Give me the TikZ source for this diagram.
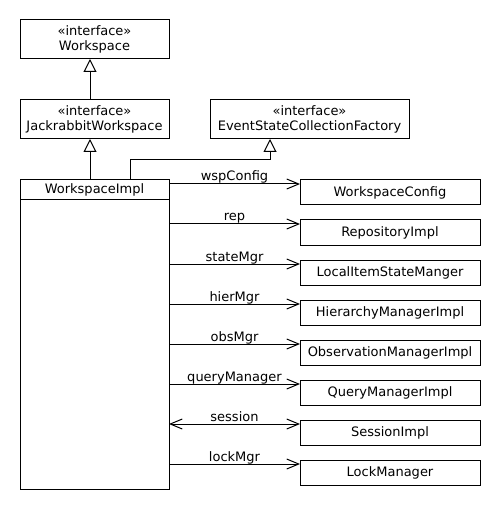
\documentclass[tikz,border=0pt]{standalone}
\usepackage{fontspec}
\setmainfont{DejaVu Sans}
\usetikzlibrary{positioning}
\usetikzlibrary{arrows.meta}
\tikzset{class/.style={draw, rectangle, line width=1pt, inner sep=0pt, outer sep=0pt, align=center},
  member/.style={class, minimum width=180pt, minimum height=25pt},
  gen/.style={-{Triangle[open, length=13pt, width=13pt]}, line width=1pt},
  assoc/.style={->, >={Straight Barb[length=12pt, width=10pt]}, line width=1pt},
  lbl/.style={anchor=base, yshift=3pt, inner sep=0pt}}

\begin{document}
\begin{tikzpicture}[x=1pt, y=-1pt, font=\fontsize{13}{15}\selectfont]
  \useasboundingbox (0,0) rectangle (500,510);

  % interfaces
  \node (wsp) at (94.5,39.5) [class, minimum width=149pt, minimum height=39pt] {«interface»\\Workspace};
  \node (jrwsp) at (94.5,119.5) [class, minimum width=149pt, minimum height=39pt] {«interface»\\JackrabbitWorkspace};
  \node (escf) at (309.5,119.5) [class, minimum width=199pt, minimum height=39pt] {«interface»\\EventStateCollectionFactory};

  % implementation
  \node (wspimpl) at (94.5,190) [class, minimum width=149pt, minimum height=20pt] {WorkspaceImpl};
  \node (wspbody) [class, below=0pt of wspimpl, minimum width=149pt, minimum height=289pt] {};

  % members
  \node (wspconf) at (390,192.5) [member] {WorkspaceConfig};
  \node (repimpl) at (390,232.5) [member] {RepositoryImpl};
  \node (statemgr) at (390,272.5) [member] {LocalItemStateManger};
  \node (hiermgr) at (390,312.5) [member] {HierarchyManagerImpl};
  \node (obsmgr) at (390,352.5) [member] {ObservationManagerImpl};
  \node (querymgr) at (390,392.5) [member] {QueryManagerImpl};
  \node (sessimpl) at (390,432.5) [member] {SessionImpl};
  \node (lockmgr) at (390,472.5) [member] {LockManager};

  % inheritance
  \draw[gen] ([xshift=-4.5pt]jrwsp.north) -- ([xshift=-4.5pt]wsp.south);
  \draw[gen] ([xshift=-4.5pt]wspimpl.north) -- ([xshift=-4.5pt]jrwsp.south);
  \draw[gen] ([xshift=35.5pt]wspimpl.north) -- ++(0,-20) -| ([xshift=-39.5pt]escf.south);

  % associations
  \draw[assoc] ([yshift=-4pt]wspconf.north west -| wspimpl.east) -- node[lbl] {wspConfig} ([yshift=-4pt]wspconf.north west);
  \draw[assoc] ([yshift=-4pt]repimpl.north west -| wspimpl.east) -- node[lbl] {rep} ([yshift=-4pt]repimpl.north west);
  \draw[assoc] ([yshift=-4pt]statemgr.north west -| wspimpl.east) -- node[lbl] {stateMgr} ([yshift=-4pt]statemgr.north west);
  \draw[assoc] ([yshift=-4pt]hiermgr.north west -| wspimpl.east) -- node[lbl] {hierMgr} ([yshift=-4pt]hiermgr.north west);
  \draw[assoc] ([yshift=-4pt]obsmgr.north west -| wspimpl.east) -- node[lbl] {obsMgr} ([yshift=-4pt]obsmgr.north west);
  \draw[assoc] ([yshift=-4pt]querymgr.north west -| wspimpl.east) -- node[lbl] {queryManager} ([yshift=-4pt]querymgr.north west);
  \draw[assoc, <->] ([yshift=-4pt]sessimpl.north west -| wspimpl.east) -- node[lbl] {session} ([yshift=-4pt]sessimpl.north west);
  \draw[assoc] ([yshift=-4pt]lockmgr.north west -| wspimpl.east) -- node[lbl] {lockMgr} ([yshift=-4pt]lockmgr.north west);

\end{tikzpicture}
\end{document}
